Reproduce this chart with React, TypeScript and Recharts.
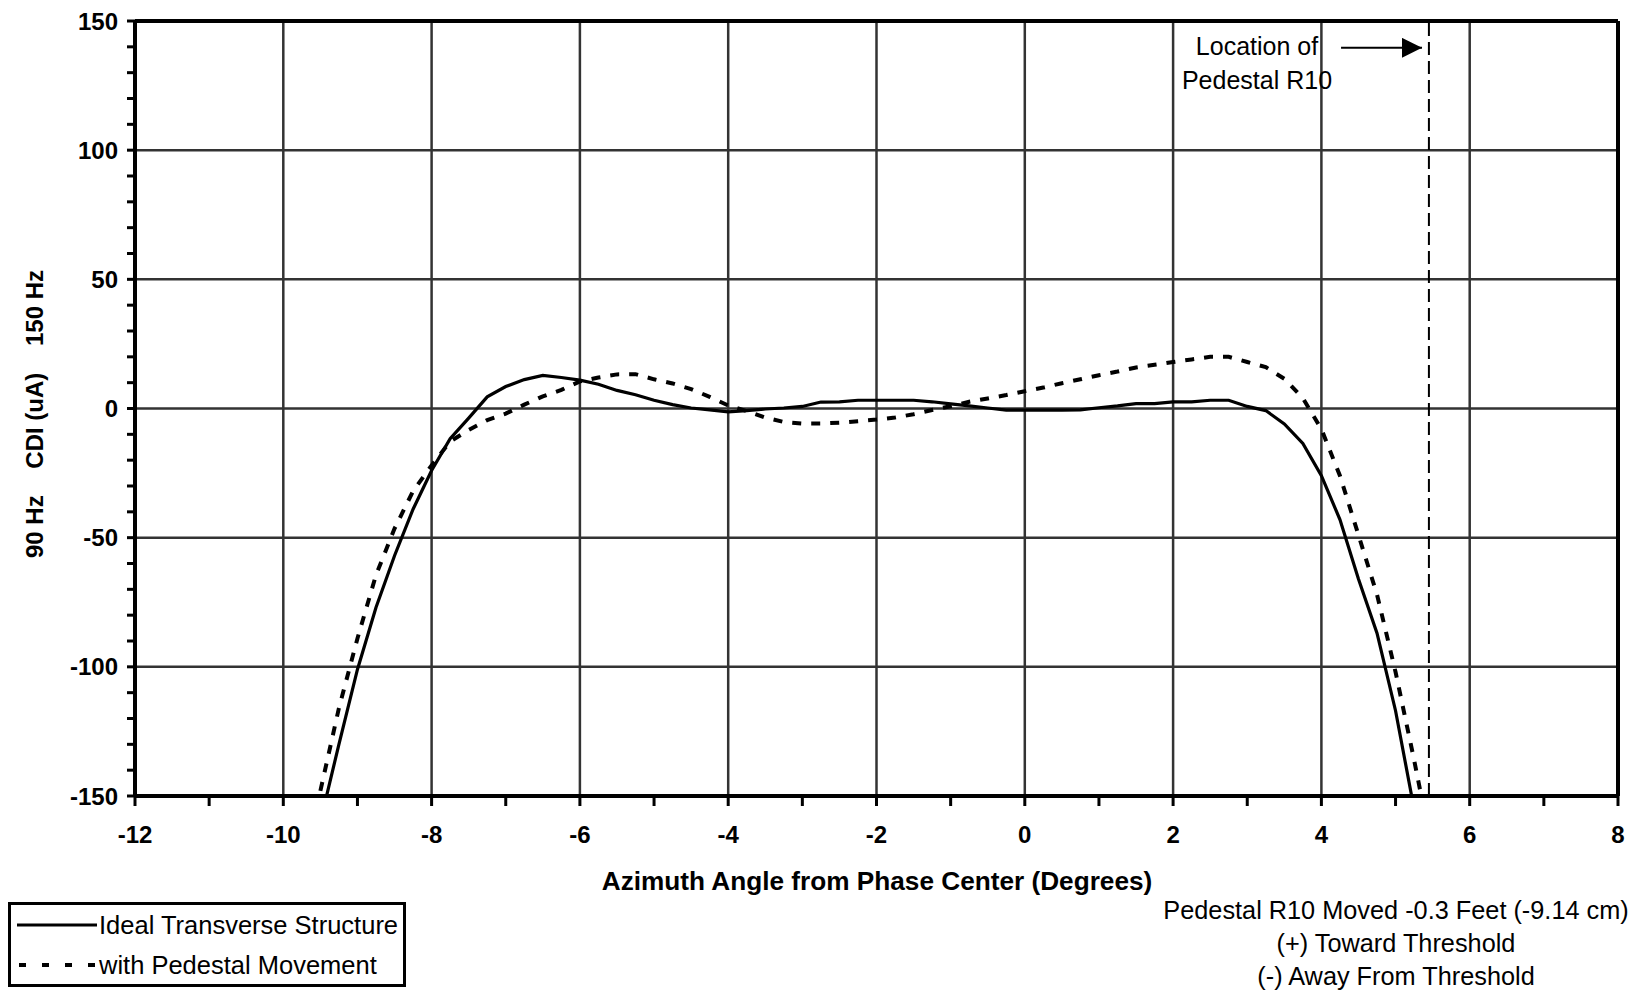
import { LineChart, Line, XAxis, YAxis, ReferenceLine } from "recharts";

const FONT = '"Liberation Sans", Arial, sans-serif';

// azimuth angle (deg)
const angles = [
  -9.5, -9.25, -9.0, -8.75, -8.5, -8.25, -8.0, -7.75, -7.5, -7.25, -7.0, -6.75, -6.5, -6.25, -6.0, -5.75,
  -5.5, -5.25, -5.0, -4.75, -4.5, -4.25, -4.0, -3.75, -3.5, -3.25, -3.0, -2.75, -2.5, -2.25, -2.0, -1.75,
  -1.5, -1.25, -1.0, -0.75, -0.5, -0.25, 0, 0.25, 0.5, 0.75, 1.0, 1.25, 1.5, 1.75, 2.0, 2.25,
  2.5, 2.75, 3.0, 3.25, 3.5, 3.75, 4.0, 4.25, 4.5, 4.75, 5.0, 5.25, 5.5,
];

// CDI (uA), ideal transverse structure
const ideal = [
  -160, -130, -101, -77, -57, -39, -24, -11.7, -3.7, 4.5, 8.5, 11.2, 12.8, 12, 11, 9.4,
  7, 5.3, 3.2, 1.5, 0.2, -0.5, -1.3, -0.8, -0.2, 0.2, 0.8, 2.5, 2.6, 3.2, 3.2, 3.2,
  3.2, 2.6, 1.8, 1.0, 0.2, -0.6, -0.6, -0.6, -0.6, -0.5, 0.3, 1.0, 1.9, 1.9, 2.6, 2.6,
  3.2, 3.2, 0.8, -0.8, -6, -13.5, -26, -43, -66, -87, -117, -155, -195,
];

// CDI (uA), with pedestal movement
const withMovement = [
  -148, -116, -89, -64.5, -46.5, -32, -22, -12.8, -8.3, -4.5, -2, 1.5, 4.7, 7.2, 10.5, 12,
  13.2, 13.3, 11.3, 9.7, 7.5, 4.5, 1.2, -1, -3.5, -5.2, -5.8, -5.8, -5.5, -4.9, -4.3, -3.5,
  -2.2, -0.6, 0.9, 2.6, 3.9, 5.2, 6.7, 8.1, 9.8, 11.3, 12.9, 14.3, 15.9, 16.9, 18, 19,
  20, 20, 18, 16, 11.5, 4, -8, -26, -49, -72, -102, -136, -172,
];

const xTicks = [-12, -11, -10, -9, -8, -7, -6, -5, -4, -3, -2, -1, 0, 1, 2, 3, 4, 5, 6, 7, 8];
const xGrid = [-10, -8, -6, -4, -2, 0, 2, 4, 6];
const yTicks = [
  -150, -140, -130, -120, -110, -100, -90, -80, -70, -60, -50, -40, -30, -20, -10, 0,
  10, 20, 30, 40, 50, 60, 70, 80, 90, 100, 110, 120, 130, 140, 150,
];
const yGrid = [-100, -50, 0, 50, 100];

const pedestalX = 5.45;
const arrowFrom = { x: 4.265, y: 139.6 };
const arrowTo = { x: 5.357, y: 139.6 };

const rows = angles.map((a, i) => ({ angle: a, ideal: ideal[i], moved: withMovement[i] }));

const DASH = "9 10";

function LegendBox() {
  return (
    <div
      style={{
        position: "absolute",
        left: 8,
        top: 902,
        width: 392,
        height: 79,
        border: "3px solid #000",
        background: "#fff",
        fontSize: 25.5,
        color: "#000",
      }}
    >
      <div style={{ position: "absolute", left: 6, top: 5, display: "flex", alignItems: "center", height: 30 }}>
        <svg width={81} height={10}>
          <line x1={0} y1={5} x2={80} y2={5} stroke="#000" strokeWidth={3} />
        </svg>
        <span style={{ marginLeft: 1, whiteSpace: "pre" }}>Ideal Transverse Structure</span>
      </div>
      <div style={{ position: "absolute", left: 6, top: 45, display: "flex", alignItems: "center", height: 30 }}>
        <svg width={81} height={10}>
          <line x1={2} y1={5} x2={80} y2={5} stroke="#000" strokeWidth={4} strokeDasharray="7 16" />
        </svg>
        <span style={{ marginLeft: 1, whiteSpace: "pre" }}>with Pedestal Movement</span>
      </div>
    </div>
  );
}

const noteStyle = {
  position: "absolute" as const,
  left: 1396,
  transform: "translate(-50%, -50%)",
  fontSize: 25.3,
  whiteSpace: "pre" as const,
  color: "#000",
};

export default function App() {
  return (
    <div style={{ position: "absolute", left: 0, top: 0, width: 1640, height: 993, background: "#fff", fontFamily: FONT }}>
      <LineChart width={1640} height={993} data={rows} margin={{ top: 21, right: 22, bottom: 0, left: 0 }}>
        <defs>
          <marker id="arrowHead" markerUnits="userSpaceOnUse" markerWidth={22} markerHeight={22} refX={20} refY={10} orient="auto">
            <path d="M0,0 L20,10 L0,20 Z" fill="#000" />
          </marker>
        </defs>
        <XAxis
          dataKey="angle"
          type="number"
          domain={[-12, 8]}
          ticks={xTicks}
          interval={0}
          allowDataOverflow
          height={197}
          tickSize={10}
          tickMargin={20}
          axisLine={{ stroke: "#000", strokeWidth: 4 }}
          tickLine={{ stroke: "#000", strokeWidth: 3 }}
          tickFormatter={(v: number) => (v % 2 === 0 ? String(v) : "")}
          tick={{ fill: "#000", fontSize: 24, fontWeight: 700, fontFamily: FONT }}
        />
        <YAxis
          type="number"
          domain={[-150, 150]}
          ticks={yTicks}
          interval={0}
          allowDataOverflow
          width={135}
          tickSize={8}
          tickMargin={9}
          axisLine={{ stroke: "#000", strokeWidth: 4 }}
          tickLine={{ stroke: "#000", strokeWidth: 3 }}
          tickFormatter={(v: number) => (v % 50 === 0 ? String(v) : "")}
          tick={{ fill: "#000", fontSize: 24, fontWeight: 700, fontFamily: FONT }}
        />
        {xGrid.map((v) => (
          <ReferenceLine key={`gx${v}`} x={v} stroke="#333" strokeWidth={2.5} />
        ))}
        {yGrid.map((v) => (
          <ReferenceLine key={`gy${v}`} y={v} stroke="#333" strokeWidth={2.5} />
        ))}
        <ReferenceLine y={150} stroke="#000" strokeWidth={4} />
        <ReferenceLine x={8} stroke="#000" strokeWidth={4} />
        <ReferenceLine x={pedestalX} stroke="#000" strokeWidth={2} strokeDasharray="13 6" />
        <ReferenceLine
          segment={[arrowFrom, arrowTo]}
          stroke="#000"
          strokeWidth={2}
          markerEnd="url(#arrowHead)"
        />
        <Line
          type="linear"
          dataKey="ideal"
          name="Ideal Transverse Structure"
          stroke="#000"
          strokeWidth={3.2}
          dot={false}
          isAnimationActive={false}
        />
        <Line
          type="linear"
          dataKey="moved"
          name="with Pedestal Movement"
          stroke="#000"
          strokeWidth={4}
          strokeDasharray={DASH}
          dot={false}
          isAnimationActive={false}
        />
      </LineChart>

      <LegendBox />

      {/* y axis title */}
      <div
        style={{
          position: "absolute",
          left: 35,
          top: 414,
          transform: "translate(-50%, -50%) rotate(-90deg)",
          whiteSpace: "pre",
          fontSize: 24,
          fontWeight: 700,
          color: "#000",
        }}
      >
        {"90 Hz    CDI (uA)    150 Hz"}
      </div>

      {/* x axis title */}
      <div
        style={{
          position: "absolute",
          left: 877,
          top: 881,
          transform: "translate(-50%, -50%)",
          whiteSpace: "pre",
          fontSize: 26.2,
          fontWeight: 700,
          color: "#000",
        }}
      >
        Azimuth Angle from Phase Center (Degrees)
      </div>

      {/* pedestal annotation */}
      <div
        style={{
          position: "absolute",
          left: 1257,
          top: 63,
          transform: "translate(-50%, -50%)",
          textAlign: "center",
          fontSize: 25,
          lineHeight: "34px",
          color: "#000",
          whiteSpace: "pre",
        }}
      >
        {"Location of\nPedestal R10"}
      </div>

      {/* notes */}
      <div style={{ ...noteStyle, top: 910 }}>Pedestal R10 Moved -0.3 Feet (-9.14 cm)</div>
      <div style={{ ...noteStyle, top: 943 }}>(+) Toward Threshold</div>
      <div style={{ ...noteStyle, top: 976 }}>(-) Away From Threshold</div>
    </div>
  );
}
